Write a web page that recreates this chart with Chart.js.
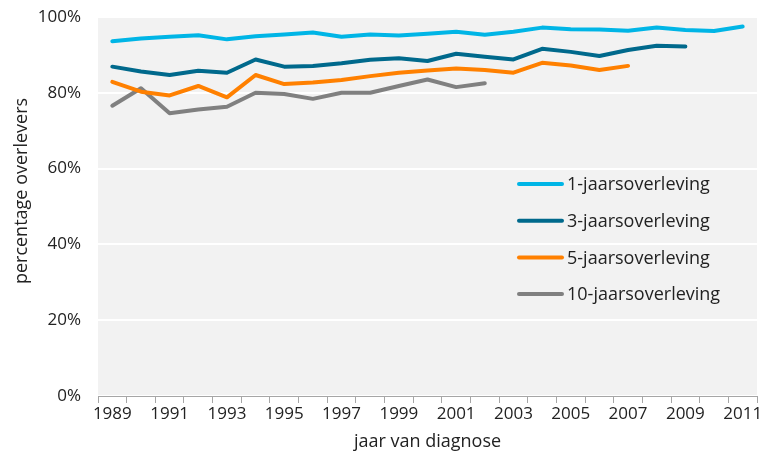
<!DOCTYPE html>
<html>
<head>
<meta charset="utf-8">
<script src="https://cdn.jsdelivr.net/npm/chart.js@4"></script>
<style>
  html, body { margin: 0; padding: 0; background: #fff; }
  #wrap { width: 770px; height: 456px; }
</style>
</head>
<body>
<div id="wrap"><canvas id="overlevingChart" width="770" height="456"></canvas></div>
<script>
// jaren van diagnose
const jaren = ['1989','1990','1991','1992','1993','1994','1995','1996','1997','1998','1999','2000',
               '2001','2002','2003','2004','2005','2006','2007','2008','2009','2010','2011'];

// overleving in procenten
const jaar1 = [93.6, 94.3, 94.8, 95.2, 94.1, 94.9, 95.4, 95.9, 94.8, 95.4, 95.1, 95.6,
               96.1, 95.3, 96.1, 97.2, 96.8, 96.7, 96.4, 97.2, 96.6, 96.3, 97.5];
const jaar3 = [86.9, 85.6, 84.7, 85.8, 85.3, 88.8, 86.9, 87.1, 87.8, 88.7, 89.1, 88.4,
               90.3, 89.5, 88.8, 91.6, 90.8, 89.7, 91.3, 92.4, 92.2];
const jaar5 = [82.9, 80.3, 79.3, 81.8, 78.8, 84.7, 82.3, 82.7, 83.4, 84.4, 85.3, 85.9,
               86.4, 86.0, 85.3, 87.9, 87.2, 86.0, 87.1];
const jaar10 = [76.6, 81.2, 74.6, 75.6, 76.3, 80.0, 79.7, 78.4, 80.0, 80.0, 81.8, 83.5,
                81.5, 82.5];

const reeksNamen = ['1-jaarsoverleving', '3-jaarsoverleving', '5-jaarsoverleving', '10-jaarsoverleving'];
const kleuren = ['#00b5e6', '#00698c', '#ff8000', '#808080'];
const yTicks = [0, 20, 40, 60, 80, 100];
const yTitel = 'percentage overlevers';

const fontNaam = '"Open Sans", Lato, sans-serif';
const tekstKleur = '#222222';

// grijze achtergrond van het plotgebied
const achtergrond = {
    id: 'achtergrond',
    beforeDraw(chart) {
        const { ctx, chartArea: a } = chart;
        ctx.save();
        ctx.fillStyle = '#f2f2f2';
        ctx.fillRect(a.left, a.top, a.right - a.left, a.bottom - a.top);
        ctx.restore();
    }
};

// legenda binnen het plotgebied + y-as titel
const legendaBinnen = {
    id: 'legendaBinnen',
    afterDraw(chart) {
        const { ctx } = chart;
        const x0 = 519, x1 = 562, tx = 567;
        const y0 = 184, stap = 36.7;
        ctx.save();
        ctx.font = '18px ' + fontNaam;
        ctx.textBaseline = 'middle';
        ctx.textAlign = 'left';
        chart.data.datasets.forEach((ds, i) => {
            const y = y0 + i * stap;
            ctx.strokeStyle = ds.borderColor;
            ctx.lineWidth = 4;
            ctx.lineCap = 'round';
            ctx.beginPath();
            ctx.moveTo(x0, y);
            ctx.lineTo(x1, y);
            ctx.stroke();
            ctx.fillStyle = tekstKleur;
            ctx.fillText(ds.label, tx, y + 1);
        });
        // titel y-as
        ctx.translate(22, 191);
        ctx.rotate(-Math.PI / 2);
        ctx.textAlign = 'center';
        ctx.fillText(yTitel, 0, 0);
        ctx.restore();
    }
};

const reeksen = [jaar1, jaar3, jaar5, jaar10];

new Chart(document.getElementById('overlevingChart'), {
    type: 'line',
    data: {
        labels: jaren,
        datasets: reeksen.map((d, i) => ({
            label: reeksNamen[i],
            data: d,
            borderColor: kleuren[i],
            backgroundColor: kleuren[i],
            borderWidth: 4,
            borderCapStyle: 'round',
            borderJoinStyle: 'round',
            pointRadius: 0,
            tension: 0,
            fill: false
        }))
    },
    options: {
        responsive: false,
        animation: false,
        layout: { padding: { left: 6, right: 13, top: 17, bottom: 0 } },
        plugins: {
            legend: { display: false },
            tooltip: { enabled: false }
        },
        scales: {
            x: {
                offset: true,
                grid: {
                    offset: true,
                    drawOnChartArea: false,
                    drawTicks: true,
                    tickLength: 7,
                    color: '#a6a6a6'
                },
                border: { color: '#a6a6a6', width: 1 },
                ticks: {
                    autoSkip: false,
                    maxRotation: 0,
                    padding: 1,
                    color: tekstKleur,
                    font: { family: fontNaam, size: 17 },
                    callback: function (v, i) { return i % 2 === 0 ? jaren[i] : ''; }
                },
                title: {
                    display: true,
                    text: 'jaar van diagnose',
                    color: tekstKleur,
                    font: { family: fontNaam, size: 18 },
                    padding: { top: 0, bottom: 3 }
                },
                afterFit: s => { s.height = 60; s.paddingLeft = 0; s.paddingRight = 0; }
            },
            y: {
                min: 0,
                max: 100,
                afterBuildTicks: s => { s.ticks = yTicks.map(v => ({ value: v })); },
                grid: { color: '#ffffff', lineWidth: 2, drawTicks: false },
                border: { display: false },
                ticks: {
                    padding: 17,
                    color: tekstKleur,
                    font: { family: fontNaam, size: 17 },
                    callback: v => v + '%'
                },
                afterFit: s => { s.width = 92; s.paddingTop = 0; s.paddingBottom = 0; }
            }
        }
    },
    plugins: [achtergrond, legendaBinnen]
});
</script>
</body>
</html>
